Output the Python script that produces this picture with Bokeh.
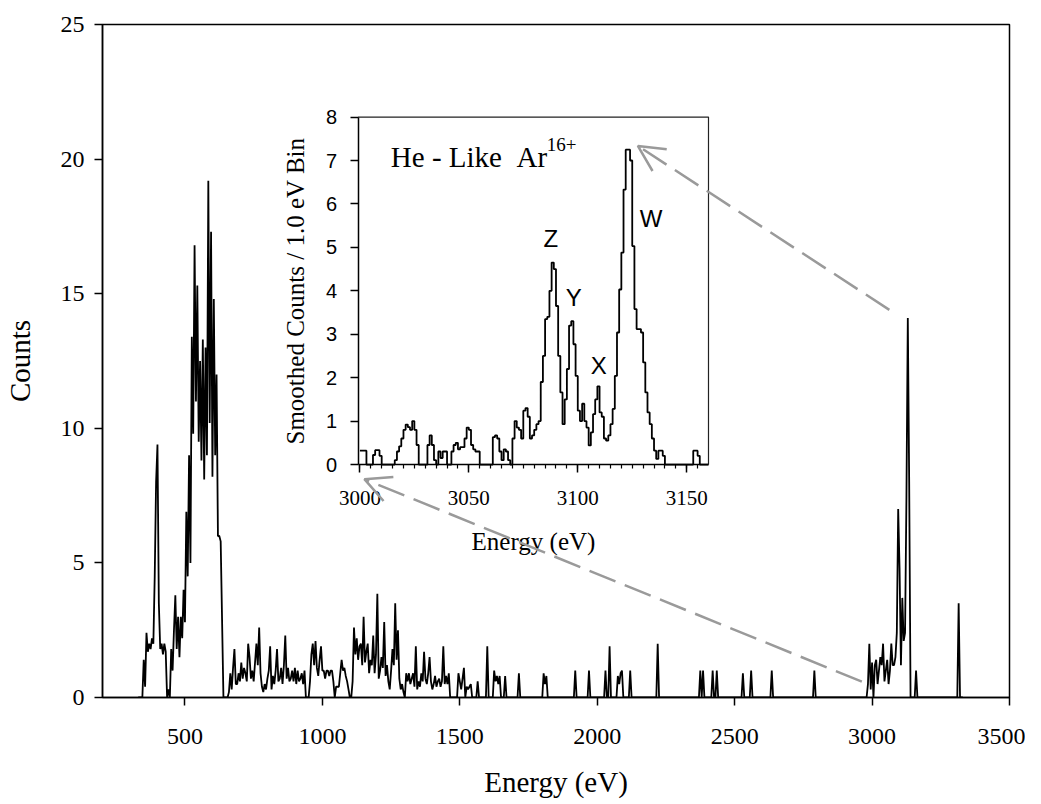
import numpy as np
from bokeh.plotting import figure
from bokeh.models import Range1d, LinearAxis, FixedTicker, Arrow, OpenHead
from bokeh.core.properties import value
from bokeh.embed import file_html
from bokeh.resources import INLINE

# ---------------- data ----------------
# main spectrum, 5 eV bins (counts); zero elsewhere
main_bin = 5
main_grid_start = 330
main_grid_stop = 3335

seg_a_start = 345
seg_a_counts = [
    0, 1.4, 0.4, 2.4, 1.7, 2.0, 1.8, 2.2, 2.0, 4.5,
    8.0, 9.4, 3.5, 1.8, 2.0, 1.6, 2.0, 1.7, 0, 0.3,
    0, 1.8, 1.0, 2.5, 3.8, 1.8, 3.0, 1.5, 3.0, 2.2,
    4.0, 2.8, 6.9, 4.5, 9.0, 5.0, 13.4, 9.8, 16.8, 11.0,
    15.3, 9.5, 12.5, 8.8, 13.3, 8.1, 13.0, 9.0, 19.2, 10.2,
    17.3, 8.2, 14.8, 9.0, 12.0, 6.0, 6.0, 5.8, 2.9, 0,
]

seg_b_start = 650
seg_b_counts = [
    0, 0, 0.2, 0.9, 0.3, 1.1, 1.8, 0.5, 0.5, 0.9,
    0.6, 1.3, 0.7, 1.1, 0.9, 0.6, 2.0, 1.5, 0.7, 1.0,
    0.6, 1.3, 2.0, 1.2, 2.6, 0.9, 0.4, 0.2, 0.5, 0.3,
    0.7, 1.0, 1.9, 0.3, 0.8, 0.5, 1.0, 1.8, 0.6, 0.7,
    1.1, 0.5, 1.2, 2.3, 0.7, 1.1, 0.6, 0.7, 1.0, 0.6,
    1.1, 0.5, 1.0, 0.6, 0.7, 0.9, 0.5, 1.0, 0, 0,
    0, 0.6, 1.6, 2.0, 1.2, 2.1, 1.1, 0.8, 1.4, 1.9,
    1.0, 1.0, 0.7, 1.0, 1.0, 0.8, 1.0, 1.0, 0.6, 0,
    0.4, 0.4, 0.4, 0.9, 1.4, 1.0, 1.1, 0.8, 0.6, 0.3,
    0, 0, 0.6, 2.6, 1.6, 2.2, 1.4, 1.9, 2.0, 1.2,
    3.0, 1.3, 1.7, 2.0, 0.9, 1.4, 1.2, 2.3, 0.9, 1.6,
    3.85, 0.7, 1.0, 1.5, 1.1, 2.8, 0.8, 1.2, 0.6, 0.3,
    1.0, 1.8, 1.2, 3.5, 1.4, 2.5, 0.7, 0.3, 0.5, 0.2,
    0, 0.9, 0.6, 0.9, 0.5, 0.7, 0.9, 0.4, 1.9, 0.3,
    0.6, 0.4, 0.9, 0.6, 1.7, 0.7, 0.5, 0.9, 1.5, 0.6,
    0.3, 0.5, 0.8, 0.4, 0.6, 0.7, 0.4, 0.6, 1.9, 0.5,
    0.8, 0.5, 0.9, 0, 0, 0, 0, 0, 0, 0.9,
    0.6, 0.3, 0.7, 1.1, 0, 0.4, 0.3, 0.4, 0.5, 0,
    0, 0, 0, 0.6, 0, 0, 0, 0, 0, 0,
    1.9, 0, 0, 0, 0, 1.0, 0.6, 0.8, 0.5, 0.8,
    0, 0, 0, 0.8, 0, 0, 0, 0, 0, 0,
    0, 0, 0, 0.9, 0,
]

spike_energy = [1805, 1810, 1815, 1920, 1970, 2030, 2045, 2075, 2080, 2085,
                2090, 2120, 2220, 2375, 2385, 2420, 2435, 2530, 2560, 2635,
                2790, 3315]
spike_counts = [0.9, 0.5, 0.8, 1.0, 1.0, 1.0, 1.9, 0.8, 0.5, 0.9,
                1.0, 1.0, 2.0, 1.0, 1.0, 1.0, 1.0, 0.9, 1.0, 1.0,
                1.0, 3.5]

seg_c_start = 2980
seg_c_counts = [
    0, 0.5, 2.0, 0.3, 1.3, 0, 1.2, 1.4, 0.5, 1.0,
    1.5, 1.2, 2.0, 0.6, 1.0, 1.4, 0.5, 1.0, 2.0, 1.2,
    1.2, 1.5, 2.4, 7.0, 4.8, 1.2, 3.7, 2.1, 2.4, 7.4,
    14.1, 8.0, 0, 0, 0, 0, 1.0, 0,
]

# inset: He-like Ar16+ region, smoothed counts per 1.0 eV bin
inset_start = 3000
inset_counts = [
    0.32, 0.32, 0.32, 0, 0, 0, 0.22, 0.33, 0.33, 0.2,
    0, 0, 0, 0, 0, 0, 0.1, 0.3, 0.42, 0.6,
    0.8, 0.92, 0.86, 0.8, 1.0, 0.8, 0.45, 0, 0, 0,
    0, 0.45, 0.67, 0.45, 0.1, 0, 0.3, 0.15, 0.3, 0.3,
    0, 0, 0.3, 0.45, 0.5, 0.35, 0.4, 0.4, 0.6, 0.85,
    0.8, 0.45, 0.35, 0.3, 0.3, 0, 0, 0, 0, 0,
    0, 0.63, 0.67, 0.6, 0.3, 0.1, 0.35, 0.3, 0.1, 0,
    0.6, 1.0, 0.85, 0.8, 0.6, 1.24, 1.3, 1.1, 0.6, 0.67,
    0.8, 0.93, 1.0, 1.9, 2.5, 3.35, 3.4, 4.0, 4.65, 4.5,
    3.65, 2.5, 1.66, 0.93, 1.5, 2.2, 3.2, 3.3, 2.77, 2.04,
    1.24, 1.0, 1.4, 1.0, 0.85, 0.44, 0.74, 1.16, 1.5, 1.8,
    1.2, 1.1, 0.6, 0.55, 0.67, 0.93, 1.28, 2.04, 3.04, 4.03,
    4.88, 6.33, 7.25, 7.25, 7.0, 5.03, 3.58, 3.12, 3.12, 3.04,
    2.35, 1.66, 1.2, 0.93, 0.6, 0.32, 0.13, 0.32, 0.32, 0.2,
    0, 0, 0, 0, 0, 0, 0, 0, 0, 0,
    0, 0, 0, 0.32, 0.32, 0.2, 0, 0, 0, 0,
]

line_labels = ["Z", "Y", "X", "W"]
line_label_energy = [3087.6, 3098.2, 3109.6, 3133.7]
line_label_counts = [5.2, 3.85, 2.29, 5.66]

main_xticks = [500, 1000, 1500, 2000, 2500, 3000, 3500]
main_yticks = [0, 5, 10, 15, 20, 25]
inset_xticks = [3000, 3050, 3100, 3150]
inset_yticks = [0, 1, 2, 3, 4, 5, 6, 7, 8]

# arrows (tail -> head), in main-plot data units
arrow_tail_e = [2962.8, 3062.9]
arrow_tail_c = [0.59, 14.4]
arrow_head_e = [1152.8, 2147.8]
arrow_head_c = [8.11, 20.49]

# ---------------- build main series ----------------
main_e = np.arange(main_grid_start, main_grid_stop, main_bin)
main_c = np.zeros(len(main_e))


def put(start, vals):
    for k, v in enumerate(vals):
        idx = int(round((start + main_bin * k - main_grid_start) / main_bin))
        main_c[idx] = v


put(seg_a_start, seg_a_counts)
put(seg_b_start, seg_b_counts)
put(seg_c_start, seg_c_counts)
for e, c in zip(spike_energy, spike_counts):
    put(e, [c])

inset_e = list(np.arange(inset_start, inset_start + len(inset_counts) + 1))
inset_c = inset_counts + [inset_counts[-1]]

# ---------------- layout constants (canvas px) ----------------
FRAME_L, FRAME_R, FRAME_T, FRAME_B = 99, 1009, 24, 700
INSET_L, INSET_R, INSET_T, INSET_B = 355.5, 707, 117, 466
inset_xr = (2999.2, 3160.0)
inset_yr = (0.0, 8.0)

W, H = 1025, 800
p = figure(width=W, height=H, x_range=Range1d(200, 3500), y_range=Range1d(0, 25),
           output_backend="svg", toolbar_location=None,
           min_border_left=FRAME_L, min_border_right=W - FRAME_R,
           min_border_top=FRAME_T, min_border_bottom=H - FRAME_B)
p.background_fill_color = "white"
p.border_fill_color = "white"
p.outline_line_color = "black"
p.outline_line_width = 1.5
p.xgrid.visible = False
p.ygrid.visible = False

sx = (inset_xr[1] - inset_xr[0]) / (INSET_R - INSET_L)
sy = (inset_yr[1] - inset_yr[0]) / (INSET_B - INSET_T)
p.extra_x_ranges = {"ix": Range1d(inset_xr[0] - (INSET_L - FRAME_L) * sx,
                                  inset_xr[1] + (FRAME_R - INSET_R) * sx)}
p.extra_y_ranges = {"iy": Range1d(inset_yr[0] - (FRAME_B - INSET_B) * sy,
                                  inset_yr[1] + (INSET_T - FRAME_T) * sy)}

SERIF = "Liberation Serif"
SANS = "Liberation Sans"


def style_axis(ax, tick_size, label_size, tick_font):
    ax.axis_line_color = "black"
    ax.axis_line_width = 1.5
    ax.major_tick_line_color = "black"
    ax.major_tick_line_width = 1.5
    ax.major_tick_out = 8
    ax.major_tick_in = 0
    ax.major_label_text_font = tick_font
    ax.major_label_text_font_size = tick_size
    ax.major_label_text_color = "black"
    ax.axis_label_text_font = SERIF
    ax.axis_label_text_font_size = label_size
    ax.axis_label_text_font_style = "normal"
    ax.axis_label_text_color = "black"


# main axes
p.xaxis.ticker = FixedTicker(ticks=main_xticks)
p.yaxis.ticker = FixedTicker(ticks=main_yticks)
p.xaxis.axis_label = "Energy (eV)"
p.yaxis.axis_label = "Counts"
for ax in (p.xaxis[0], p.yaxis[0]):
    style_axis(ax, "24px", "29px", SERIF)
    ax.minor_tick_line_color = None
p.xaxis.major_label_standoff = 23
p.xaxis.axis_label_standoff = 19
p.yaxis.major_label_standoff = 10
p.yaxis.axis_label_standoff = 22

# main spectrum
p.line(main_e, main_c, line_color="black", line_width=1.8)

# inset spectrum
p.step(inset_e, inset_c, mode="after", line_color="black", line_width=1.8,
       x_range_name="ix", y_range_name="iy")

# inset frame (top & right edges)
p.line([inset_xr[0], inset_xr[1], inset_xr[1]], [inset_yr[1], inset_yr[1], inset_yr[0]],
       line_color="#222222", line_width=1.2, x_range_name="ix", y_range_name="iy")

# inset axes
ixa = LinearAxis(x_range_name="ix", y_range_name="iy", fixed_location=inset_yr[0],
                 bounds=inset_xr,
                 ticker=FixedTicker(ticks=inset_xticks,
                                    minor_ticks=list(range(3000, 3160, 5))),
                 axis_label="Energy (eV)")
style_axis(ixa, "21px", "25px", SERIF)
ixa.minor_tick_out = 4
ixa.minor_tick_in = 0
ixa.minor_tick_line_color = "black"
ixa.minor_tick_line_width = 1.2
ixa.major_label_standoff = 18
ixa.axis_label_standoff = 20
p.add_layout(ixa, "below")

iya = LinearAxis(x_range_name="ix", y_range_name="iy", fixed_location=inset_xr[0],
                 bounds=inset_yr, ticker=FixedTicker(ticks=inset_yticks),
                 axis_label="Smoothed Counts / 1.0 eV Bin")
style_axis(iya, "20px", "25px", SANS)
iya.minor_tick_line_color = None
iya.major_label_standoff = 13
iya.axis_label_standoff = 14
p.add_layout(iya, "left")

# inset annotations
p.text(x=[3014.2], y=[7.09], text=["He - Like\u00a0\u00a0Ar"], text_font=value(SERIF),
       text_font_size="29px", text_align="left", text_baseline="alphabetic",
       text_color="black", x_range_name="ix", y_range_name="iy")
p.text(x=[3085.8], y=[7.36], text=["16+"], text_font=value(SERIF),
       text_font_size="19px", text_align="left", text_baseline="alphabetic",
       text_color="black", x_range_name="ix", y_range_name="iy")
p.text(x=line_label_energy, y=line_label_counts, text=line_labels,
       text_font=value(SANS), text_font_size="24px", text_align="center",
       text_baseline="middle", text_color="black",
       x_range_name="ix", y_range_name="iy")

# dashed zoom arrows
for xs, ys, xe, ye in zip(arrow_tail_e, arrow_tail_c, arrow_head_e, arrow_head_c):
    p.add_layout(Arrow(x_start=xs, y_start=ys, x_end=xe, y_end=ye,
                       line_color="#9a9a9a", line_width=2.5, line_dash="28 10",
                       end=OpenHead(size=26, line_color="#9a9a9a", line_width=2.5)))

open("out.html", "w").write(file_html(p, INLINE))
